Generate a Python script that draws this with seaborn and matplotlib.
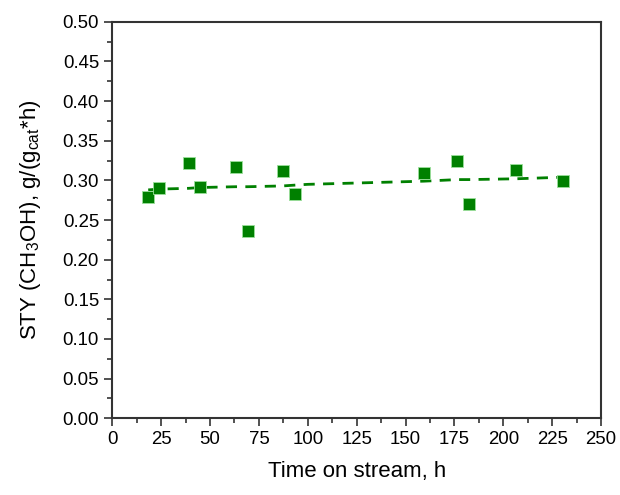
import numpy as np
import pandas as pd
import matplotlib
matplotlib.use("Agg")
import matplotlib.pyplot as plt
import seaborn as sns
from matplotlib.ticker import MultipleLocator

# measured points
time_h = [18.4, 24.0, 39.2, 45.0, 63.1, 69.3, 87.2, 93.3, 159.4, 176.5, 182.5, 206.3, 230.4]
sty = [0.279, 0.291, 0.322, 0.292, 0.317, 0.236, 0.312, 0.283, 0.309, 0.325, 0.270, 0.313, 0.299]

# trend line (dashed)
trend_time = [18.4, 24.0, 39.2, 45.0, 63.1, 69.3, 87.2, 93.3, 100.0, 159.4, 176.5, 182.5, 206.3, 230.4]
trend_sty = [0.288, 0.289, 0.290, 0.291, 0.292, 0.292, 0.293, 0.294, 0.295, 0.299, 0.301, 0.301, 0.302, 0.304]

df = pd.DataFrame({"time": time_h, "sty": sty})
trend = pd.DataFrame({"time": trend_time, "sty": trend_sty})

sns.set_style("ticks")
plt.rcParams["font.family"] = ["Liberation Sans", "DejaVu Sans"]
plt.rcParams["mathtext.fontset"] = "custom"
plt.rcParams["mathtext.rm"] = "Liberation Sans"
plt.rcParams["mathtext.it"] = "Liberation Sans"
plt.rcParams["text.color"] = "black"
plt.rcParams["axes.labelcolor"] = "black"

fig = plt.figure(figsize=(6.2, 4.95), dpi=100)
ax = fig.add_axes([0.181, 0.155, 0.7885, 0.801])

sns.lineplot(data=trend, x="time", y="sty", ax=ax, color="#008000",
             linewidth=2, linestyle=(0, (4, 3)))
sns.scatterplot(data=df, x="time", y="sty", ax=ax, marker="s", s=80,
                color="#008000", edgecolor="#9be09b", linewidth=0.6, zorder=3)

ax.set_xlim(0, 250)
ax.set_ylim(0, 0.5)
ax.xaxis.set_major_locator(MultipleLocator(25))
ax.xaxis.set_minor_locator(MultipleLocator(12.5))
ax.yaxis.set_major_locator(MultipleLocator(0.05))
ax.yaxis.set_minor_locator(MultipleLocator(0.025))
ax.yaxis.set_major_formatter(matplotlib.ticker.FormatStrFormatter("%.2f"))

ax.tick_params(which="major", direction="out", length=6, width=1.2,
               labelsize=13.4, color="#333333", labelcolor="black")
ax.tick_params(which="minor", direction="out", length=3.5, width=1.2,
               color="#333333")
ax.tick_params(top=False, right=False, which="both")
for sp in ax.spines.values():
    sp.set_linewidth(1.5)
    sp.set_color("#333333")

ax.set_xlabel("Time on stream, h", fontsize=16, labelpad=9)
ax.set_ylabel(r"STY (CH$_3$OH), g/(g$_{\mathrm{cat}}$*h)", fontsize=16, labelpad=14)

fig.savefig("out.png", dpi=100)
